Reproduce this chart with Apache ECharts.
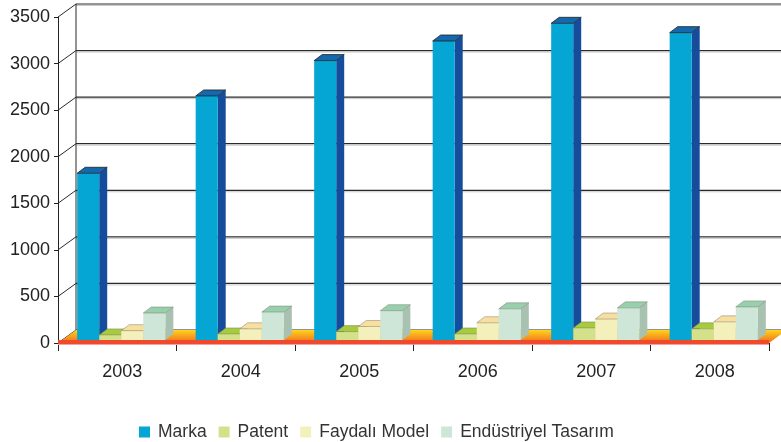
<!DOCTYPE html>
<html>
<head>
<meta charset="utf-8">
<script src="https://cdn.jsdelivr.net/npm/echarts@6/dist/echarts.min.js"></script>
<style>
  html, body { margin: 0; padding: 0; background: #fff; }
  #chart { width: 781px; height: 442px; }
</style>
</head>
<body>
<div id="chart"></div>
<script>
// values
var years = ['2003', '2004', '2005', '2006', '2007', '2008'];
var marka = [1790, 2620, 3000, 3210, 3400, 3300];
var patent = [55, 65, 90, 65, 130, 120];
var faydali = [100, 120, 145, 185, 225, 195];
var endustriyel = [290, 300, 315, 335, 345, 355];
var yTicks = [0, 500, 1000, 1500, 2000, 2500, 3000, 3500];

var seriesNames = ['Marka', 'Patent', 'Faydalı Model', 'Endüstriyel Tasarım'];
var seriesData = [marka, patent, faydali, endustriyel];
// front / side / top face colours
var faceColors = [
    ['#05a6d3', '#154d9c', '#1468ae'],
    ['#d3e28a', '#a9c15a', '#a6cb3c'],
    ['#f3f0bc', '#d9d29a', '#f8dfa0'],
    ['#cde6d7', '#a8c1b1', '#98d0ae']
];

var WALL_DX = 18, WALL_DY = 13;   // depth of the back wall
var BAR_PX = 4, BAR_PY = 3;       // bars sit slightly behind the front edge
var BAR_DX = 8, BAR_DY = 6;       // depth of a bar

function barRenderer(k) {
    return function (params, api) {
        var ci = api.value(0), v = api.value(1);
        var base = api.coord([ci, 0]);
        var top = api.coord([ci, v]);
        var band = api.size([1, 0])[0];
        var bw = band * 0.186;
        var x0 = base[0] - 2 * bw + k * bw + BAR_PX;
        var y0 = base[1] - BAR_PY;
        var y1 = top[1] - BAR_PY;
        var c = faceColors[k];
        return {
            type: 'group',
            children: [
                {
                    type: 'polygon',
                    shape: { points: [[x0 + bw, y0], [x0 + bw + BAR_DX, y0 - BAR_DY], [x0 + bw + BAR_DX, y1 - BAR_DY], [x0 + bw, y1]] },
                    style: { fill: c[1] }
                },
                {
                    type: 'rect',
                    shape: { x: x0, y: y1, width: bw, height: y0 - y1 },
                    style: { fill: c[0] }
                },
                {
                    type: 'polygon',
                    shape: { points: [[x0, y1], [x0 + BAR_DX, y1 - BAR_DY], [x0 + bw + BAR_DX, y1 - BAR_DY], [x0 + bw, y1]] },
                    style: { fill: c[2], stroke: k === 0 ? '#222' : 'rgba(120,120,100,0.6)', lineWidth: 0.8 }
                }
            ]
        };
    };
}

function wallRenderer(params, api) {
    var v = api.value(1);
    var p = api.coord([0, v]);
    var band = api.size([1, 0])[0];
    var xl = p[0] - band / 2;
    var children = [
        { type: 'line', shape: { x1: xl, y1: p[1], x2: xl + WALL_DX, y2: p[1] - WALL_DY }, style: { stroke: '#2a2a2a', lineWidth: 1 } },
        { type: 'line', shape: { x1: xl + WALL_DX, y1: p[1] - WALL_DY, x2: 800, y2: p[1] - WALL_DY }, style: { stroke: '#2a2a2a', lineWidth: 1.2 } },
        { type: 'line', shape: { x1: xl + WALL_DX, y1: p[1] - WALL_DY + 1.5, x2: 800, y2: p[1] - WALL_DY + 1.5 }, style: { stroke: '#c8c8c8', lineWidth: 1 } }
    ];
    if (params.dataIndex === yTicks.length - 1) {
        var p0 = api.coord([0, 0]);
        children.push({ type: 'line', shape: { x1: xl + WALL_DX, y1: p[1] - WALL_DY, x2: xl + WALL_DX, y2: p0[1] - WALL_DY }, style: { stroke: '#2a2a2a', lineWidth: 1 } });
    }
    return { type: 'group', children: children };
}

function floorRenderer(params, api) {
    var band = api.size([1, 0])[0];
    var l = api.coord([0, 0]);
    var r = api.coord([years.length - 1, 0]);
    var xl = l[0] - band / 2, xr = r[0] + band / 2, y = l[1];
    return {
        type: 'group',
        children: [
            {
                type: 'polygon',
                shape: { points: [[xl, y], [xl + WALL_DX, y - WALL_DY], [xr + WALL_DX, y - WALL_DY], [xr, y]] },
                style: {
                    fill: new echarts.graphic.LinearGradient(0, 0, 0, 1, [
                        { offset: 0, color: '#ffd51c' },
                        { offset: 0.55, color: '#f79a1e' },
                        { offset: 1, color: '#f36a24' }
                    ])
                }
            },
            {
                type: 'rect',
                shape: { x: xl, y: y - 3, width: xr - xl, height: 4 },
                style: { fill: '#ef4a2c' }
            },
            {
                type: 'line',
                shape: { x1: xl, y1: y + 1.5, x2: xr, y2: y + 1.5 },
                style: { stroke: '#f6a0a0', lineWidth: 1 }
            }
        ]
    };
}

var series = [
    {
        type: 'custom',
        name: 'walls',
        renderItem: wallRenderer,
        data: yTicks.map(function (v) { return [0, v]; }),
        silent: true,
        z: 1
    },
    {
        type: 'custom',
        name: 'floor',
        renderItem: floorRenderer,
        data: [[0, 0]],
        silent: true,
        z: 1
    }
];
seriesNames.forEach(function (name, k) {
    series.push({
        type: 'custom',
        name: name,
        renderItem: barRenderer(k),
        itemStyle: { color: faceColors[k][0] },
        data: seriesData[k].map(function (v, i) { return [i, v]; }),
        z: 3
    });
});

var chart = echarts.init(document.getElementById('chart'));
chart.setOption({
    animation: false,
    textStyle: { fontFamily: 'Liberation Sans, Arial, sans-serif' },
    grid: { left: 58, right: 12, top: 17, bottom: 99 },
    legend: {
        data: seriesNames,
        left: 134,
        top: 418,
        icon: 'rect',
        itemWidth: 11,
        itemHeight: 11,
        itemGap: 12,
        textStyle: { fontSize: 17.5, color: '#333', padding: [0, 0, 0, 3] }
    },
    xAxis: {
        type: 'category',
        data: years,
        axisLine: { show: false },
        axisTick: { show: true, length: 8, lineStyle: { color: '#222' } },
        axisLabel: { fontSize: 18, color: '#222', margin: 20, padding: [0, 0, 0, 10] },
        splitLine: { show: false }
    },
    yAxis: {
        type: 'value',
        min: 0,
        max: 3500,
        interval: 500,
        axisLine: { show: true, lineStyle: { color: '#222' } },
        axisTick: { show: true, length: 4, lineStyle: { color: '#222' } },
        axisLabel: { fontSize: 18, color: '#222', margin: 8, formatter: function (v) { return String(v); } },
        splitLine: { show: false }
    },
    series: series
});
</script>
</body>
</html>
